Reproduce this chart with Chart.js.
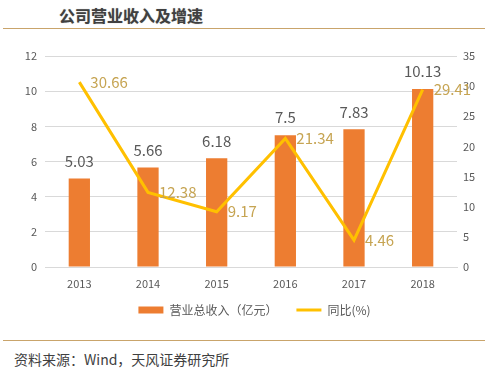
<!DOCTYPE html>
<html>
<head>
<meta charset="utf-8">
<script src="https://cdn.jsdelivr.net/npm/chart.js@4"></script>
<style>
  body { margin: 0; background: #fff; }
  .wrap { position: relative; width: 491px; height: 374px; overflow: hidden; font-family: "Noto Sans CJK SC", sans-serif; }
  .title { position: absolute; left: 59px; top: 3px; font-size: 16px; font-weight: bold; color: #404040; text-shadow: 0 0 1px rgba(0,0,0,0.35); }
  .rule { position: absolute; left: 3px; width: 482px; height: 0; border-top: 1.5px solid #c9a46b; }
  .source { position: absolute; left: 14px; top: 349px; font-size: 14px; color: #404040; }
  #box { position: absolute; left: 0; top: 35px; width: 491px; height: 291px; }
</style>
</head>
<body>
<div class="wrap">
  <div class="title">公司营业收入及增速</div>
  <div class="rule" style="top:28px"></div>
  <div id="box"><canvas id="myChart"></canvas></div>
  <div class="rule" style="top:340px"></div>
  <div class="source">资料来源：Wind，天风证券研究所</div>
</div>
<script>
// data
const years = ['2013', '2014', '2015', '2016', '2017', '2018'];
const revenue = [5.03, 5.66, 6.18, 7.5, 7.83, 10.13];
const growth = [30.66, 12.38, 9.17, 21.34, 4.46, 29.41];
const leftTicks = [0, 2, 4, 6, 8, 10, 12];
const rightTicks = [0, 5, 10, 15, 20, 25, 30, 35];

const FONT = '"Noto Sans CJK SC", sans-serif';
const GRAY = '#595959';

// value labels over bars and next to line points
const valueLabels = {
    id: 'valueLabels',
    afterDatasetsDraw(chart) {
        const ctx = chart.ctx;
        ctx.save();
        const bars = chart.getDatasetMeta(0).data;
        ctx.font = '15px ' + FONT;
        ctx.fillStyle = GRAY;
        ctx.textAlign = 'center';
        ctx.textBaseline = 'bottom';
        bars.forEach((el, i) => {
            ctx.fillText(String(revenue[i]), el.x, el.y - 10);
        });
        const pts = chart.getDatasetMeta(1).data;
        ctx.fillStyle = '#c6a452';
        ctx.textAlign = 'left';
        ctx.textBaseline = 'middle';
        pts.forEach((el, i) => {
            ctx.fillText(growth[i].toFixed(2), el.x + 11, el.y);
        });
        ctx.restore();
    }
};

const chart = new Chart('myChart', {
    data: {
        labels: years,
        datasets: [{
            type: 'bar',
            label: '营业总收入（亿元）',
            data: revenue,
            backgroundColor: '#ed7d31',
            barPercentage: 0.31,
            categoryPercentage: 1,
            yAxisID: 'y',
            order: 1,
            pointStyle: 'rect'
        }, {
            type: 'line',
            label: '同比(%)',
            data: growth,
            borderColor: '#ffc000',
            backgroundColor: '#ffc000',
            borderWidth: 3,
            pointRadius: 0,
            tension: 0,
            yAxisID: 'y1',
            order: 0,
            pointStyle: 'line'
        }]
    },
    options: {
        responsive: true,
        maintainAspectRatio: false,
        animation: false,
        layout: { padding: { top: 21, left: 18, right: 0, bottom: 0 } },
        plugins: {
            tooltip: { enabled: false },
            legend: {
                position: 'bottom',
                labels: {
                    usePointStyle: true,
                    pointStyleWidth: 25,
                    boxHeight: 7,
                    padding: 13,
                    color: GRAY,
                    font: { family: FONT, size: 12 },
                    sort: (a, b) => a.datasetIndex - b.datasetIndex,
                    generateLabels: (c) => {
                        const items = Chart.defaults.plugins.legend.labels.generateLabels(c);
                        items.forEach(it => { if (it.datasetIndex === 0) it.text += '\u2002'; });
                        return items;
                    }
                }
            }
        },
        scales: {
            x: {
                grid: { display: false, drawTicks: false },
                border: { color: '#d9d9d9' },
                ticks: { color: GRAY, padding: 10, font: { family: FONT, size: 11 } },
                afterFit: (s) => { s.height = 24; }
            },
            y: {
                position: 'left',
                min: 0, max: 12,
                afterBuildTicks: (s) => { s.ticks = leftTicks.map(v => ({ value: v })); },
                grid: { color: '#d9d9d9', drawTicks: false },
                border: { display: false },
                ticks: { color: GRAY, padding: 8, font: { family: FONT, size: 11 } },
                afterFit: (s) => { s.width = 27; }
            },
            y1: {
                position: 'right',
                min: 0, max: 35,
                afterBuildTicks: (s) => { s.ticks = rightTicks.map(v => ({ value: v })); },
                grid: { display: false, drawTicks: false },
                border: { display: false },
                ticks: { color: GRAY, padding: 6, font: { family: FONT, size: 11 } },
                afterFit: (s) => { s.width = 34; }
            }
        }
    },
    plugins: [valueLabels]
});
</script>
</body>
</html>
